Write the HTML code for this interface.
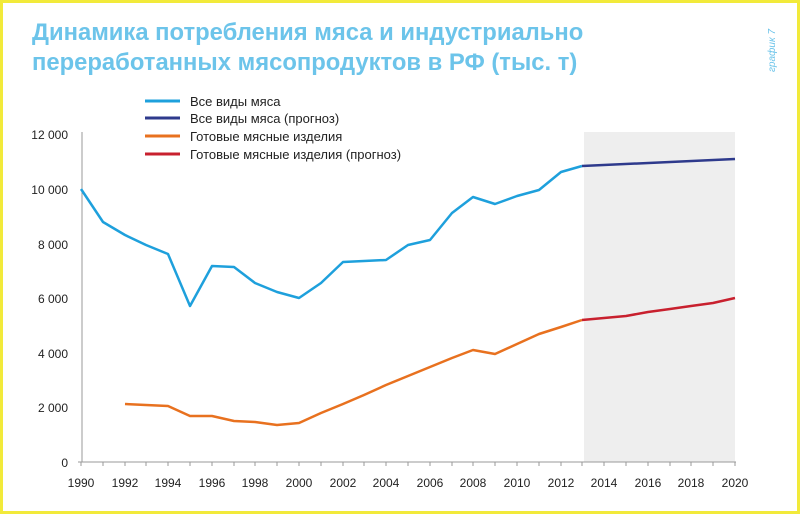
<!DOCTYPE html>
<html><head><meta charset="utf-8"><style>
html,body{margin:0;padding:0;background:#fff}
svg{display:block}
</style></head><body>
<svg width="800" height="514" xmlns="http://www.w3.org/2000/svg" font-family="Liberation Sans, DejaVu Sans, sans-serif">
<rect x="0" y="0" width="800" height="514" fill="#fff"/>
<rect x="1.5" y="1.5" width="797" height="511" fill="none" stroke="#f2ea3a" stroke-width="3"/>
<text x="32" y="40" font-size="23.8" font-weight="bold" fill="#6cc4ea">Динамика потребления мяса и индустриально</text>
<text x="32" y="70" font-size="23.8" font-weight="bold" fill="#6cc4ea">переработанных мясопродуктов в РФ (тыс. т)</text>
<text transform="translate(775,72) rotate(-90)" font-size="10" font-style="italic" fill="#6cc4ea">график 7</text>
<rect x="584" y="132" width="151" height="330" fill="#eeeeee"/>
<g stroke-width="3">
<line x1="145" y1="101" x2="180" y2="101" stroke="#1ea0dc"/>
<line x1="145" y1="118" x2="180" y2="118" stroke="#2e3a8c"/>
<line x1="145" y1="136" x2="180" y2="136" stroke="#e8711f"/>
<line x1="145" y1="154" x2="180" y2="154" stroke="#c8202e"/>
</g>
<g font-size="13" fill="#222">
<text x="190" y="106">Все виды мяса</text>
<text x="190" y="123">Все виды мяса (прогноз)</text>
<text x="190" y="141">Готовые мясные изделия</text>
<text x="190" y="159">Готовые мясные изделия (прогноз)</text>
</g>
<g stroke="#999" stroke-width="1">
<line x1="82" y1="132" x2="82" y2="462"/>
<line x1="78" y1="462" x2="736" y2="462"/>
<line x1="81" y1="462" x2="81" y2="466"/><line x1="103" y1="462" x2="103" y2="466"/><line x1="125" y1="462" x2="125" y2="466"/><line x1="146" y1="462" x2="146" y2="466"/><line x1="168" y1="462" x2="168" y2="466"/><line x1="190" y1="462" x2="190" y2="466"/><line x1="212" y1="462" x2="212" y2="466"/><line x1="234" y1="462" x2="234" y2="466"/><line x1="255" y1="462" x2="255" y2="466"/><line x1="277" y1="462" x2="277" y2="466"/><line x1="299" y1="462" x2="299" y2="466"/><line x1="321" y1="462" x2="321" y2="466"/><line x1="343" y1="462" x2="343" y2="466"/><line x1="364" y1="462" x2="364" y2="466"/><line x1="386" y1="462" x2="386" y2="466"/><line x1="408" y1="462" x2="408" y2="466"/><line x1="430" y1="462" x2="430" y2="466"/><line x1="452" y1="462" x2="452" y2="466"/><line x1="473" y1="462" x2="473" y2="466"/><line x1="495" y1="462" x2="495" y2="466"/><line x1="517" y1="462" x2="517" y2="466"/><line x1="539" y1="462" x2="539" y2="466"/><line x1="561" y1="462" x2="561" y2="466"/><line x1="582" y1="462" x2="582" y2="466"/><line x1="604" y1="462" x2="604" y2="466"/><line x1="626" y1="462" x2="626" y2="466"/><line x1="648" y1="462" x2="648" y2="466"/><line x1="670" y1="462" x2="670" y2="466"/><line x1="691" y1="462" x2="691" y2="466"/><line x1="713" y1="462" x2="713" y2="466"/><line x1="735" y1="462" x2="735" y2="466"/>
</g>
<g font-size="12" fill="#222" text-anchor="end">
<text x="68" y="139">12 000</text>
<text x="68" y="194">10 000</text>
<text x="68" y="249">8 000</text>
<text x="68" y="303">6 000</text>
<text x="68" y="358">4 000</text>
<text x="68" y="412">2 000</text>
<text x="68" y="467">0</text>
</g>
<g font-size="12" fill="#222" text-anchor="middle">
<text x="81" y="487">1990</text><text x="125" y="487">1992</text><text x="168" y="487">1994</text><text x="212" y="487">1996</text><text x="255" y="487">1998</text><text x="299" y="487">2000</text><text x="343" y="487">2002</text><text x="386" y="487">2004</text><text x="430" y="487">2006</text><text x="473" y="487">2008</text><text x="517" y="487">2010</text><text x="561" y="487">2012</text><text x="604" y="487">2014</text><text x="648" y="487">2016</text><text x="691" y="487">2018</text><text x="735" y="487">2020</text>
</g>
<g fill="none" stroke-width="2.5" stroke-linejoin="round">
<polyline stroke="#1ea0dc" points="81,189 103,222 125,235 146,245 168,254 190,306 212,266 234,267 255,283 277,292 299,298 321,283 343,262 364,261 386,260 408,245 430,240 452,213 473,197 495,204 517,196 539,190 561,172 582,166"/>
<polyline stroke="#2e3a8c" points="582,166 735,159"/>
<polyline stroke="#e8711f" points="125,404 146,405 168,406 190,416 212,416 234,421 255,422 277,425 299,423 321,413 343,404 364,395 386,385 408,376 430,367 452,358 473,350 495,354 517,344 539,334 561,327 582,320"/>
<polyline stroke="#c8202e" points="582,320 604,318 626,316 648,312 670,309 691,306 713,303 735,298"/>
</g>
</svg>
</body></html>
